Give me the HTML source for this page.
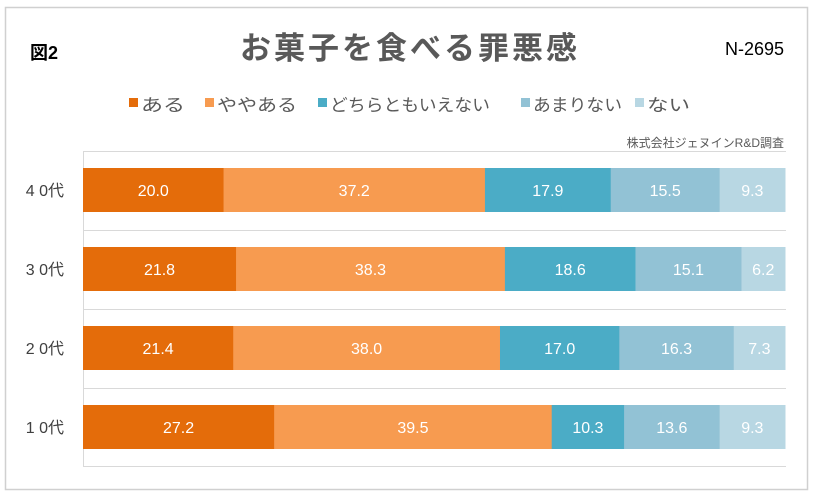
<!DOCTYPE html>
<html><head><meta charset="utf-8"><style>
body{margin:0;width:813px;height:494px;background:#fff;overflow:hidden;font-family:"Liberation Sans","Noto Sans CJK JP",sans-serif;}
</style></head><body>
<svg width="813" height="494" xmlns="http://www.w3.org/2000/svg" font-family="Liberation Sans, Noto Sans CJK JP, sans-serif">
<rect x="5.5" y="7.5" width="802" height="482" fill="#fff" stroke="#d0d0d0" stroke-width="1.5"/>
<text x="30" y="59" font-size="18" font-weight="bold" fill="#000">図2</text>
<text x="410" y="59" font-size="31" font-weight="bold" fill="#595959" text-anchor="middle" letter-spacing="3">お菓子を食べる罪悪感</text>
<text x="784" y="55" font-size="18" fill="#000" text-anchor="end">N-2695</text>
<g font-size="17" fill="#595959">
<rect x="129" y="98" width="9" height="9" fill="#E46C0A"/><text x="141" y="111" textLength="44" lengthAdjust="spacingAndGlyphs">ある</text>
<rect x="205" y="98" width="9" height="9" fill="#F79B50"/><text x="217" y="111" textLength="80" lengthAdjust="spacingAndGlyphs">ややある</text>
<rect x="318" y="98" width="9" height="9" fill="#4BACC6"/><text x="330" y="111" textLength="160" lengthAdjust="spacingAndGlyphs">どちらともいえない</text>
<rect x="521" y="98" width="9" height="9" fill="#92C2D5"/><text x="533" y="111" textLength="89" lengthAdjust="spacingAndGlyphs">あまりない</text>
<rect x="635" y="98" width="9" height="9" fill="#B8D7E3"/><text x="647" y="111" textLength="43" lengthAdjust="spacingAndGlyphs">ない</text>
</g>
<text x="784" y="147" font-size="12" fill="#595959" text-anchor="end">株式会社ジェヌインR&amp;D調査</text>
<g stroke="#d9d9d9" stroke-width="1">
<line x1="83" y1="151.5" x2="786" y2="151.5"/><line x1="83" y1="230.5" x2="786" y2="230.5"/>
<line x1="83" y1="309.5" x2="786" y2="309.5"/><line x1="83" y1="388.5" x2="786" y2="388.5"/>
<line x1="83" y1="466.5" x2="786" y2="466.5"/><line x1="83.5" y1="151" x2="83.5" y2="467"/>
</g>
<g id="bars" font-size="16" fill="#fff" text-anchor="middle"></g>
<g font-size="16" fill="#404040" text-anchor="end" id="labs"></g>
</svg>
<script>
var data=[["4 0代",168,[20.0,37.2,17.9,15.5,9.3]],["3 0代",247,[21.8,38.3,18.6,15.1,6.2]],["2 0代",326,[21.4,38.0,17.0,16.3,7.3]],["1 0代",405,[27.2,39.5,10.3,13.6,9.3]]];
var cols=["#E46C0A","#F79B50","#4BACC6","#92C2D5","#B8D7E3"];
var ns="http://www.w3.org/2000/svg",g=document.getElementById("bars"),l=document.getElementById("labs");
data.forEach(function(d){var s=d[2].reduce(function(a,b){return a+b},0),x=83,W=702;
d[2].forEach(function(v,i){var w=v/s*W;var r=document.createElementNS(ns,"rect");r.setAttribute("x",x);r.setAttribute("y",d[1]);r.setAttribute("width",w+0.5);r.setAttribute("height",44);r.setAttribute("fill",cols[i]);g.appendChild(r);
var t=document.createElementNS(ns,"text");t.setAttribute("x",x+w/2);t.setAttribute("y",d[1]+28);t.textContent=v.toFixed(1);g.appendChild(t);x+=w;});
var t=document.createElementNS(ns,"text");t.setAttribute("x",64);t.setAttribute("y",d[1]+28);t.textContent=d[0];l.appendChild(t);});
</script>
</body></html>
